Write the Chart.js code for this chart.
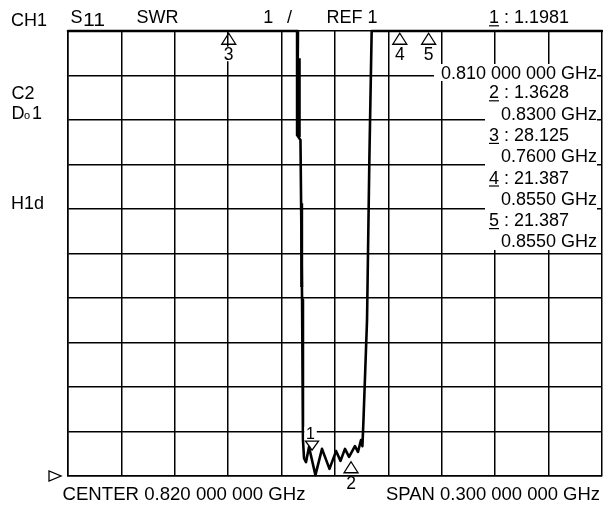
<!DOCTYPE html>
<html><head><meta charset="utf-8">
<script src="https://cdn.jsdelivr.net/npm/chart.js@4.4.1/dist/chart.umd.min.js"></script>
<style>html,body{margin:0;padding:0;background:#fff;overflow:hidden}#wrap{width:603px;height:505px;position:relative}</style>
</head><body><div id="wrap"><canvas id="c" width="603" height="505"></canvas></div>
<script>
// ---- instrument settings ----
const centerGHz = 0.82;
const spanGHz = 0.3;
const refSWR = 1;
const swrPerDiv = 1;
const divisions = 10;

// ---- measured S11 SWR trace (values above full scale are shown clamped at the top) ----
const traceFreqGHz = [0.6700, 0.7992, 0.7987, 0.8006, 0.8015, 0.8020, 0.8026, 0.8037, 0.8054, 0.8090,
                      0.8127, 0.8169, 0.8206, 0.8231, 0.8256, 0.8279, 0.8312, 0.8329, 0.8346, 0.8354,
                      0.8360, 0.8380, 0.8393, 0.8406, 0.9700];
const traceSWR     = [11.00, 11.00, 8.66, 8.55, 4.96, 1.81, 1.40, 1.31, 1.65, 1.02,
                      1.61, 1.16, 1.56, 1.34, 1.61, 1.43, 1.67, 1.54, 1.81, 1.67,
                      2.26, 4.51, 8.10, 11.00, 11.00];
// short overdrawn trace segments on the falling edge
const glitch1FreqGHz = [0.79994, 0.79994];
const glitch1SWR     = [10.39, 8.62];
const glitch2FreqGHz = [0.80129, 0.80129];
const glitch2SWR     = [7.13, 5.25];

// ---- markers ----
const markerNames     = ['1', '2', '3', '4', '5'];
const markerFreqGHz   = [0.8071, 0.8290, 0.7603, 0.8564, 0.8726];   // where the symbol is drawn
const markerPlotSWR   = [1.58, 1.32, 10.95, 10.95, 10.95];          // symbol tip level
const markerDown      = [true, false, false, false, false];
const markerReadout   = ['1.1981', '1.3628', '28.125', '21.387', '21.387'];
const markerFreqText  = ['0.810 000 000 GHz', '0.8300 GHz', '0.7600 GHz', '0.8550 GHz', '0.8550 GHz'];

const xMin = centerGHz - spanGHz / 2;
const xMax = centerGHz + spanGHz / 2;
const yMin = refSWR;
const yMax = refSWR + swrPerDiv * divisions;

const FONT = "'Liberation Sans', Arial, Helvetica, sans-serif";

function fmtGHz(v) {
  const s = v.toFixed(9);
  return s.slice(0, 5) + ' ' + s.slice(5, 8) + ' ' + s.slice(8, 11);
}
function toXY(fs, vs) { return fs.map((f, i) => ({ x: f, y: vs[i] })); }

function drawText(ctx, s, x, base, size, align, fitW) {
  ctx.save();
  ctx.font = size + 'px ' + FONT;
  ctx.fillStyle = '#000';
  ctx.textBaseline = 'alphabetic';
  if (fitW) {
    const w = ctx.measureText(s).width;
    ctx.translate(x, base);
    ctx.scale(fitW / w, 1);
    ctx.textAlign = 'left';
    ctx.fillText(s, 0, 0);
  } else {
    ctx.textAlign = align || 'left';
    ctx.fillText(s, x, base);
  }
  ctx.restore();
}
function whiteBox(ctx, x0, y0, x1, y1) {
  ctx.save(); ctx.fillStyle = '#fff'; ctx.fillRect(x0, y0, x1 - x0, y1 - y0); ctx.restore();
}
function underline(ctx, s, x, base, size) {
  ctx.save();
  ctx.font = size + 'px ' + FONT;
  const w = ctx.measureText(s).width;
  ctx.strokeStyle = '#000'; ctx.lineWidth = 1.2;
  ctx.beginPath(); ctx.moveTo(x, base + 2.5); ctx.lineTo(x + w, base + 2.5); ctx.stroke();
  ctx.restore();
}

const annotPlugin = {
  id: 'annot',
  afterDatasetsDraw(chart) {
    const ctx = chart.ctx;
    const xs = chart.scales.x, ys = chart.scales.y;
    const ca = chart.chartArea;

    // white backing of the marker listing
    whiteBox(ctx, 434, 64, 597, 81);
    whiteBox(ctx, 485, 81, 597, 250);

    // header
    drawText(ctx, 'CH1', 11, 25.5, 18);
    drawText(ctx, 'S', 70.5, 23.3, 18);
    drawText(ctx, '11', 83, 25.7, 18, 'left', 22);
    drawText(ctx, 'SWR', 136.5, 23.3, 18);
    drawText(ctx, String(swrPerDiv), 263.3, 23.3, 18);
    drawText(ctx, '/', 287, 23.3, 18);
    drawText(ctx, 'REF ' + refSWR, 326.5, 23.3, 18);

    // left side annotations
    drawText(ctx, 'C2', 11.5, 99.3, 18);
    drawText(ctx, 'D', 11.5, 119.3, 18);
    drawText(ctx, 'o', 24, 119.3, 11);
    drawText(ctx, '1', 32, 119.3, 18);
    drawText(ctx, 'H1d', 11, 209, 18);

    // marker listing
    for (let i = 0; i < markerNames.length; i++) {
      const rb = i === 0 ? 23.3 : 98.3 + (i - 1) * 42.6;
      const fb = i === 0 ? 79 : 119.5 + (i - 1) * 42.5;
      drawText(ctx, markerNames[i] + ' : ' + markerReadout[i], 489, rb, 18);
      underline(ctx, markerNames[i], 489, rb, 18);
      drawText(ctx, markerFreqText[i], 597, fb, 18, 'right');
    }

    // bottom
    drawText(ctx, 'CENTER ' + fmtGHz(centerGHz) + ' GHz', 62.5, 500, 19, 'left', 243);
    drawText(ctx, 'SPAN ' + fmtGHz(spanGHz) + ' GHz', 386, 500, 19, 'left', 214);

    // reference position arrow
    const y0 = ys.getPixelForValue(refSWR);
    ctx.save();
    ctx.strokeStyle = '#000'; ctx.lineWidth = 1.3;
    ctx.beginPath();
    ctx.moveTo(ca.left - 19, y0 - 5); ctx.lineTo(ca.left - 19, y0 + 5); ctx.lineTo(ca.left - 7, y0); ctx.closePath();
    ctx.stroke();
    ctx.restore();

    // markers
    for (let i = 0; i < markerNames.length; i++) {
      const px = xs.getPixelForValue(markerFreqGHz[i]);
      const py = ys.getPixelForValue(markerPlotSWR[i]);
      ctx.save();
      ctx.font = '17px ' + FONT;
      const lw = ctx.measureText(markerNames[i]).width;
      ctx.restore();
      if (markerDown[i]) {
        const lx = px - 1.5, lb = py - 11;
        whiteBox(ctx, lx - lw / 2 - 1.5, lb - 12.5, lx + lw / 2 + 1.5, lb + 1);
        drawText(ctx, markerNames[i], lx, lb, 16, 'center');
        ctx.save(); ctx.strokeStyle = '#000'; ctx.lineWidth = 1.3;
        ctx.beginPath(); ctx.moveTo(px - 6.5, py - 9); ctx.lineTo(px + 6.5, py - 9); ctx.lineTo(px, py); ctx.closePath(); ctx.stroke();
        ctx.restore();
      } else {
        const lb = py + 27;
        if (lb < ca.bottom) whiteBox(ctx, px - lw / 2 - 1.5, lb - 13.5, px + lw / 2 + 1.5, lb + 1);
        drawText(ctx, markerNames[i], px, lb, 17.5, 'center');
        ctx.save(); ctx.strokeStyle = '#000'; ctx.lineWidth = 1.3;
        ctx.beginPath(); ctx.moveTo(px, py); ctx.lineTo(px + 7, py + 11); ctx.lineTo(px - 7, py + 11); ctx.closePath(); ctx.stroke();
        ctx.restore();
      }
    }
  }
};

const gridOpts = { color: '#000', lineWidth: 1.5, drawTicks: false };

new Chart(document.getElementById('c'), {
  type: 'scatter',
  data: {
    datasets: [
      { data: toXY(traceFreqGHz, traceSWR), showLine: true, borderColor: '#000', borderWidth: 2.6,
        pointRadius: 0, tension: 0, clip: 4, borderJoinStyle: 'round', borderCapStyle: 'round' },
      { data: toXY(glitch1FreqGHz, glitch1SWR), showLine: true, borderColor: '#000', borderWidth: 3,
        pointRadius: 0, tension: 0 },
      { data: toXY(glitch2FreqGHz, glitch2SWR), showLine: true, borderColor: '#000', borderWidth: 3,
        pointRadius: 0, tension: 0 }
    ]
  },
  options: {
    responsive: false,
    animation: false,
    devicePixelRatio: 1,
    layout: { padding: { left: 68, right: 1, top: 31, bottom: 29 } },
    plugins: { legend: { display: false }, tooltip: { enabled: false } },
    scales: {
      x: {
        type: 'linear', min: xMin, max: xMax,
        ticks: { display: false },
        grid: gridOpts,
        border: { display: true, color: '#000', width: 1.5 },
        afterBuildTicks: s => { s.ticks = Array.from({ length: divisions + 1 }, (_, k) => ({ value: xMin + k * spanGHz / divisions })); },
        afterFit: s => { s.height = 0; }
      },
      y: {
        type: 'linear', min: yMin, max: yMax,
        ticks: { display: false },
        grid: gridOpts,
        border: { display: true, color: '#000', width: 1.5 },
        afterBuildTicks: s => { s.ticks = Array.from({ length: divisions + 1 }, (_, k) => ({ value: yMin + k * swrPerDiv })); },
        afterFit: s => { s.width = 0; }
      }
    }
  },
  plugins: [annotPlugin]
});
</script>
</body></html>
